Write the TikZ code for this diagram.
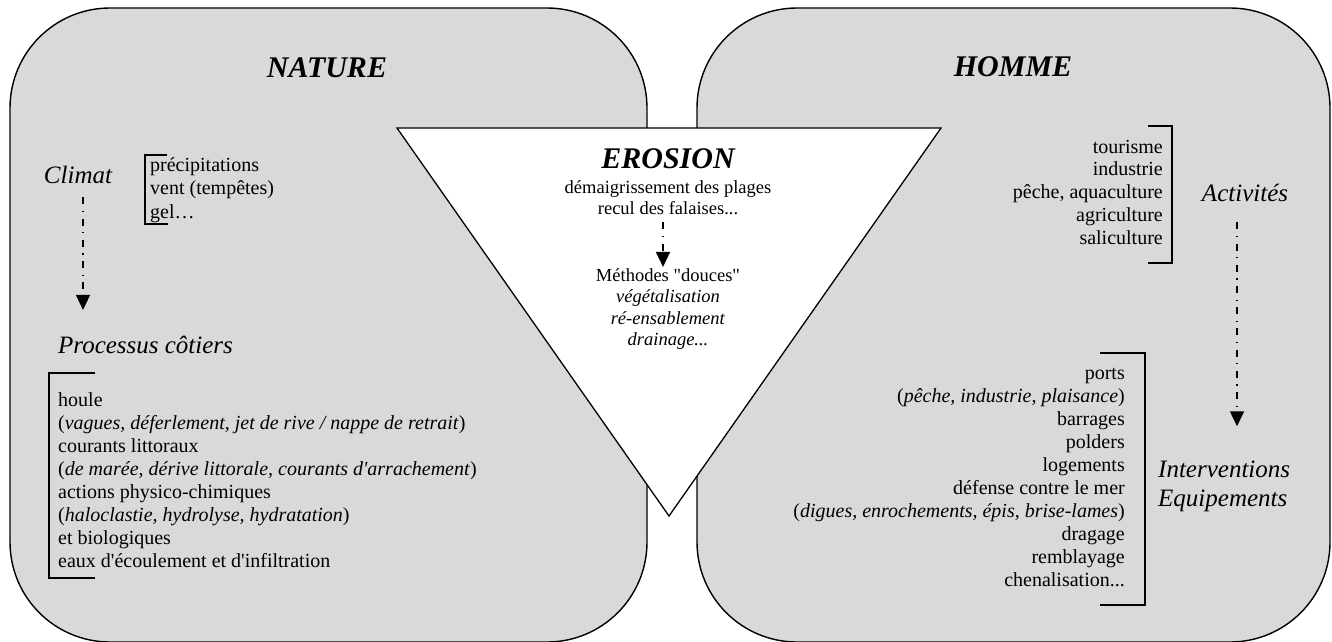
\documentclass[tikz,border=0pt]{standalone}
\usepackage{fontspec}
\setmainfont{Liberation Serif}[Ligatures=TeXOff]
\usetikzlibrary{arrows.meta}
\definecolor{panelgray}{RGB}{217,217,217}
\newcommand\trailingdots{...}
\tikzset{
  panel/.style={draw=black, line width=1.4pt, fill=panelgray, rounded corners=100pt},
  funnel/.style={draw=black, line width=1.3pt, fill=white, line join=miter},
  title/.style={font=\fontsize{30}{34}\selectfont\bfseries\itshape, inner sep=0pt},
  heading/.style={font=\fontsize{25}{29}\selectfont\itshape, inner sep=0pt},
  item/.style={font=\fontsize{20}{23}\selectfont, inner sep=0pt},
  smallitem/.style={font=\fontsize{18.5}{21}\selectfont, inner sep=0pt},
  flow/.style={line width=1.5pt, dash pattern=on 7pt off 6.5pt on 1.2pt off 6.5pt,
    -{Triangle[length=15pt,width=14pt]}},
  brace/.style={line width=1.5pt, line join=miter}
}
\begin{document}
\begin{tikzpicture}[x=1pt,y=-1pt]
\useasboundingbox (0,0) rectangle (1332,641);
\clip (0,0) rectangle (1332,641);

% the two panels and the funnel laid over them
\draw[panel] (10,8) rectangle (647,642);
\draw[panel] (697,8) rectangle (1330,642);
\draw[funnel] (397,128) -- (941,128) -- (669,516) -- cycle;

% titles
\node[title, anchor=base] (nature)  at (327,77)  {NATURE};
\node[title, anchor=base] (homme)   at (1013,76) {HOMME};
\node[title, anchor=base] (erosion) at (668,168) {EROSION};

% NATURE side
\node[heading, anchor=base] (climat) at (78,183.5) {Climat};
\foreach \t [count=\i] in {précipitations, vent (tempêtes), {gel…}}
  \node[item, anchor=base west] (clim\i) at (150,{171+23.5*(\i-1)}) {\t};
\draw[brace] (167,155) -- (145,155) -- (145,224) -- (168,224);

\node[heading, anchor=base west] (proc) at (58,353.5) {Processus côtiers};
\foreach \t [count=\i] in {
    houle,
    {(\textit{vagues, déferlement, jet de rive / nappe de retrait})},
    courants littoraux,
    {(\textit{de marée, dérive littorale, courants d'arrachement})},
    actions physico-chimiques,
    {(\textit{haloclastie, hydrolyse, hydratation})},
    et biologiques,
    eaux d'écoulement et d'infiltration}
  \node[item, anchor=base west] (proc\i) at (58,{406+23*(\i-1)}) {\t};
\draw[brace] (95,373) -- (49,373) -- (49,578) -- (95,578);

\draw[flow] ([xshift=5pt,yshift=-13.5pt]climat.south)
  -- ([xshift=5pt,yshift=26pt]proc.north -| climat.south);

% EROSION funnel
\node[smallitem, anchor=base] (ero1) at (668,193) {démaigrissement des plages};
\node[smallitem, anchor=base] (ero2) at (668,214) {recul des falaises...};
\node[smallitem, anchor=base] (soft) at (668,281) {Méthodes "douces"};
\node[smallitem, anchor=base] (soft1) at (668,302.5) {\textit{végétalisation}};
\node[smallitem, anchor=base] (soft2) at (668,324) {\textit{ré-ensablement}};
\node[smallitem, anchor=base] (soft3) at (668,345) {\textit{drainage...}};
\draw[flow] ([xshift=-5pt,yshift=-8pt]ero2.south)
  -- ([xshift=-5pt,yshift=1pt]soft.north -| ero2.south);

% HOMME side
\foreach \t [count=\i] in {tourisme, industrie, {pêche, aquaculture}, agriculture, saliculture}
  \node[item, anchor=base east] (act\i) at (1163,{153+22.8*(\i-1)}) {\t};
\draw[brace] (1148,126) -- (1172,126) -- (1172,263) -- (1148,263);
\node[heading, anchor=base] (activ) at (1245,201.5) {Activités};

\foreach \t [count=\i] in {
    ports,
    {(\textit{pêche, industrie, plaisance})},
    barrages,
    polders,
    logements,
    défense contre le mer,
    {(\textit{digues, enrochements, épis, brise-lames})},
    dragage,
    remblayage,
    chenalisation\trailingdots}
  \node[item, anchor=base east] (equ\i) at (1125,{379+23*(\i-1)}) {\t};
\draw[brace] (1100,353) -- (1145,353) -- (1145,605) -- (1100,605);
\node[heading, anchor=base west] (interv) at (1158,477) {Interventions};
\node[heading, anchor=base west] (equip)  at (1158,506) {Equipements};

\draw[flow] ([xshift=-8pt,yshift=-20.5pt]activ.south)
  -- ([xshift=-8pt,yshift=34pt]interv.north -| activ.south);
\end{tikzpicture}
\end{document}
